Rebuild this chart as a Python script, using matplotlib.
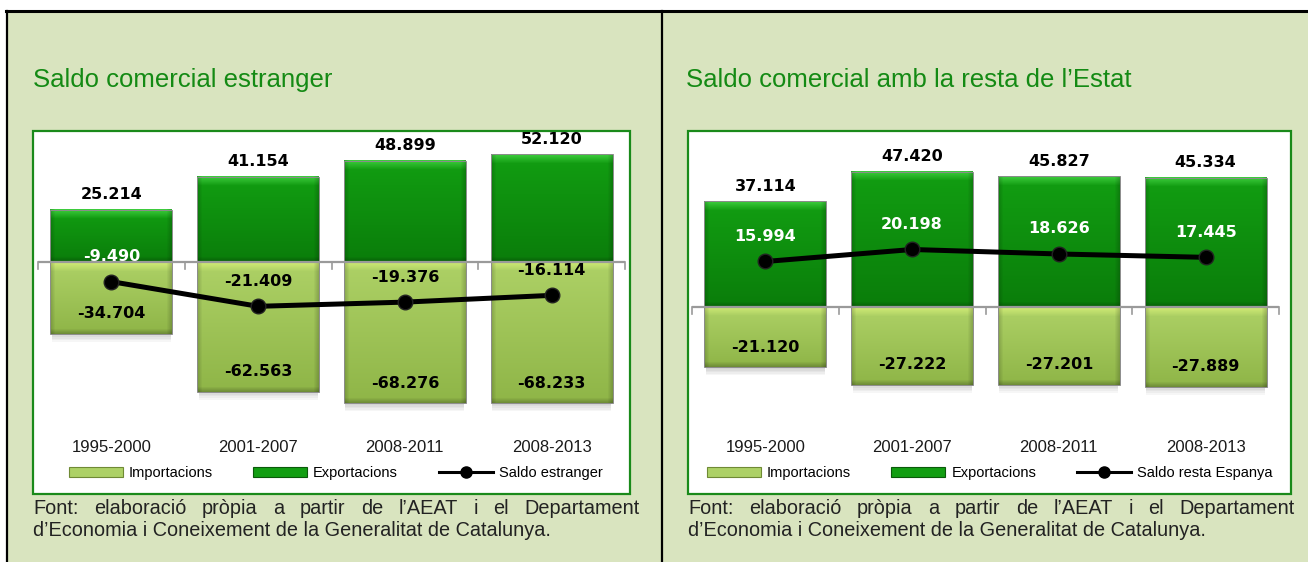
import matplotlib
matplotlib.use('Agg')
import matplotlib.pyplot as plt
import numpy as np
from matplotlib.patches import Rectangle
from matplotlib.lines import Line2D
from matplotlib.transforms import blended_transform_factory
from matplotlib import font_manager

# ---------------- data ----------------
categories = ['1995-2000', '2001-2007', '2008-2011', '2008-2013']
exp_estranger = [25.214, 41.154, 48.899, 52.120]
imp_estranger = [-34.704, -62.563, -68.276, -68.233]
saldo_estranger = [-9.490, -21.409, -19.376, -16.114]
exp_espanya = [37.114, 47.420, 45.827, 45.334]
imp_espanya = [-21.120, -27.222, -27.201, -27.889]
saldo_espanya = [15.994, 20.198, 18.626, 17.445]

titles = ['Saldo comercial estranger', "Saldo comercial amb la resta de l\u2019Estat"]
legend_labels = [['Importacions', 'Exportacions', 'Saldo estranger'],
                 ['Importacions', 'Exportacions', 'Saldo resta Espanya']]
source_line1 = "Font: elaboraci\u00f3 pr\u00f2pia a partir de l\u2019AEAT i el Departament"
source_line2 = "d\u2019Economia i Coneixement de la Generalitat de Catalunya."


def has_font(name):
    try:
        font_manager.findfont(name, fallback_to_default=False)
        return True
    except Exception:
        return False

NARROW = 'Liberation Sans Narrow' if has_font('Liberation Sans Narrow') else None
SANS = 'Liberation Sans' if has_font('Liberation Sans') else 'DejaVu Sans'

W, H = 1308, 562
fig = plt.figure(figsize=(W / 100, H / 100), dpi=100)
fig.patch.set_facecolor('white')


def fx(px):
    return px / W


def fy(py):
    return 1 - py / H


# page background and frame
fig.add_artist(Rectangle((fx(7), 0), 1 - fx(7), fy(11), transform=fig.transFigure,
                         facecolor='#d9e4bf', edgecolor='none', zorder=-5))
fig.add_artist(Line2D([fx(6), 1], [fy(11), fy(11)], transform=fig.transFigure,
                      color='black', lw=2.2, zorder=-3))
fig.add_artist(Line2D([fx(7), fx(7)], [0, fy(11)], transform=fig.transFigure,
                      color='black', lw=1.6, zorder=-3))
fig.add_artist(Line2D([fx(662), fx(662)], [0, fy(11)], transform=fig.transFigure,
                      color='black', lw=1.6, zorder=-3))

EXP_TOP, EXP_BOT, EXP_BEVEL = np.array([0.07, 0.62, 0.07]), np.array([0.04, 0.49, 0.04]), np.array([0.27, 0.83, 0.27])
IMP_TOP, IMP_BOT, IMP_BEVEL = np.array([0.68, 0.82, 0.40]), np.array([0.56, 0.71, 0.28]), np.array([0.84, 0.94, 0.47])


def bar_image(hpx, wpx, top, bot, bevel):
    hpx = max(int(round(hpx)), 2)
    wpx = max(int(round(wpx)), 2)
    t = np.linspace(0, 1, hpx)[:, None, None]
    img = top * (1 - t) + bot * t
    img = np.repeat(img, wpx, axis=1)
    rows = np.arange(hpx)[:, None]
    cols = np.arange(wpx)[None, :]
    bv = 9.0
    ftop = np.clip(1 - rows / bv, 0, 1)[..., None]
    img = img * (1 - ftop * 0.85) + bevel * ftop * 0.85
    side = np.minimum(cols, wpx - 1 - cols)
    fside = np.clip(1 - side / 5.0, 0, 1)[..., None]
    img = img * (1 - 0.18 * fside)
    fbot = np.clip(1 - (hpx - 1 - rows) / 5.0, 0, 1)[..., None]
    img = img * (1 - 0.22 * fbot)
    return np.clip(img, 0, 1)


def draw_panel(left_px, box, axes_px, ylim, exps, imps, saldos, title, leg_labels):
    bx0, by0, bx1, by1 = box
    if NARROW:
        fig.text(fx(left_px), fy(80), title, family=[NARROW, 'DejaVu Sans'], fontsize=21,
                 color='#168c16', va='center', ha='left')
    else:
        fig.text(fx(left_px), fy(80), title, family=[SANS, 'DejaVu Sans'], fontsize=18.5,
                 color='#148a14', va='center', ha='left')
    fig.add_artist(Rectangle((fx(bx0), fy(by1)), fx(bx1) - fx(bx0), fy(by0) - fy(by1),
                             transform=fig.transFigure, facecolor='white',
                             edgecolor='#1a8a1a', lw=1.6, zorder=-2))
    ax0, ay0, ax1, ay1 = axes_px
    ax = fig.add_axes([fx(ax0), fy(ay1), fx(ax1) - fx(ax0), fy(ay0) - fy(ay1)])
    ax.set_zorder(2)
    ax.set_xlim(-0.5, len(categories) - 0.5)
    ax.set_ylim(*ylim)
    ax.axis('off')
    ax.patch.set_alpha(0)
    xs = np.arange(len(categories))
    sy = (ay1 - ay0) / (ylim[1] - ylim[0])  # px per unit
    sx = (ax1 - ax0) / (len(categories))
    wbar = 0.83

    for vals, top, bot, bevel in [(exps, EXP_TOP, EXP_BOT, EXP_BEVEL),
                                  (imps, IMP_TOP, IMP_BOT, IMP_BEVEL)]:
        bars = ax.bar(xs, vals, width=wbar, color=tuple(bot), edgecolor='none', zorder=2)
        for b in bars:
            x0, w = b.get_x(), b.get_width()
            ylo = min(b.get_y(), b.get_y() + b.get_height())
            yhi = max(b.get_y(), b.get_y() + b.get_height())
            # shadow below negative bars
            if yhi <= 0:
                for k in range(1, 6):
                    ax.add_patch(Rectangle((x0 + 0.01, ylo - k * 1.6 / sy), w - 0.02, k * 1.6 / sy,
                                           facecolor='black', alpha=0.035, edgecolor='none', zorder=1))
            img = bar_image((yhi - ylo) * sy, w * sx, top, bot, bevel)
            ax.imshow(img, extent=(x0, x0 + w, ylo, yhi), aspect='auto',
                      interpolation='bilinear', zorder=3)
            ax.add_patch(Rectangle((x0, ylo), w, yhi - ylo, facecolor='none',
                                   edgecolor='#8c8c8c', lw=0.7, zorder=4))

    # zero axis line with ticks
    ax.axhline(0, color='#9a9a9a', lw=1.6, zorder=5)
    tick_len = 7 / sy
    for b in np.arange(-0.5, len(categories), 1.0):
        ax.plot([b, b], [0, -tick_len], color='#9a9a9a', lw=1.2, zorder=5, clip_on=False)

    # saldo line
    ax.plot(xs, saldos, color='black', lw=3.6, marker='o', markersize=10.5,
            markerfacecolor='black', markeredgecolor='#222222', zorder=7,
            solid_capstyle='round')

    lab_kw = dict(family='DejaVu Sans', fontweight='bold', fontsize=11.5, ha='center', va='center',
                  textcoords='offset points', zorder=8)
    for i in xs:
        ax.annotate(f"{exps[i]:.3f}", (i, exps[i]), xytext=(0, 15 * 0.72), color='black', **lab_kw)
        ax.annotate(f"{imps[i]:.3f}", (i, imps[i]), xytext=(0, 20 * 0.72), color='black', **lab_kw)
        ylab = saldos[i] + 25 / sy
        col = 'white' if ylab > 0 else 'black'
        ax.annotate(f"{saldos[i]:.3f}", (i, saldos[i]), xytext=(0, 25 * 0.72), color=col, **lab_kw)

    tr = blended_transform_factory(ax.transData, fig.transFigure)
    for i, c in enumerate(categories):
        ax.text(i, fy(447), c, transform=tr, ha='center', va='center', fontsize=12,
                family=SANS, color='#1a1a1a')

    handles = [Rectangle((0, 0), 1, 1, facecolor=tuple(IMP_TOP), edgecolor='#6f8a35', lw=0.8),
               Rectangle((0, 0), 1, 1, facecolor=tuple(EXP_TOP), edgecolor='#0a5a0a', lw=0.8),
               Line2D([], [], color='black', lw=2.2, marker='o', markersize=8)]
    leg_cx = (ax0 + ax1) / 2 + 4
    ax.legend(handles, leg_labels, loc='center', bbox_to_anchor=(fx(leg_cx), fy(473)),
              bbox_transform=fig.transFigure, ncol=3, frameon=False,
              prop={'family': SANS, 'size': 10.5}, handlelength=3.7, handleheight=0.75,
              handletextpad=0.4, columnspacing=2.8, borderpad=0, borderaxespad=0)
    return ax


draw_panel(33, (33, 131, 630, 494), (38, 140, 625, 420), (-76.3, 58.9),
           exp_estranger, imp_estranger, saldo_estranger, titles[0], legend_labels[0])
draw_panel(686, (688, 131, 1291, 494), (692, 140, 1279, 420), (-39.6, 58.6),
           exp_espanya, imp_espanya, saldo_espanya, titles[1], legend_labels[1])

# source notes (first line justified)
renderer = fig.canvas.get_renderer()
SRC_FS = 14.3


def justified(text, x0, x1, ypx):
    words = text.split(' ')
    ts = [fig.text(0, fy(ypx), w_, family=SANS, fontsize=SRC_FS, color='#222222', va='center')
          for w_ in words]
    widths = [t.get_window_extent(renderer).width for t in ts]
    gap = (x1 - x0 - sum(widths)) / (len(words) - 1)
    pos = x0
    for t, wd in zip(ts, widths):
        t.set_x(fx(pos))
        pos += wd + gap


for x0, x1 in [(33, 640), (688, 1295)]:
    justified(source_line1, x0, x1, 508)
    fig.text(fx(x0), fy(530), source_line2, family=SANS, fontsize=SRC_FS, color='#222222',
             va='center', ha='left')

fig.savefig('out.png', dpi=100)
